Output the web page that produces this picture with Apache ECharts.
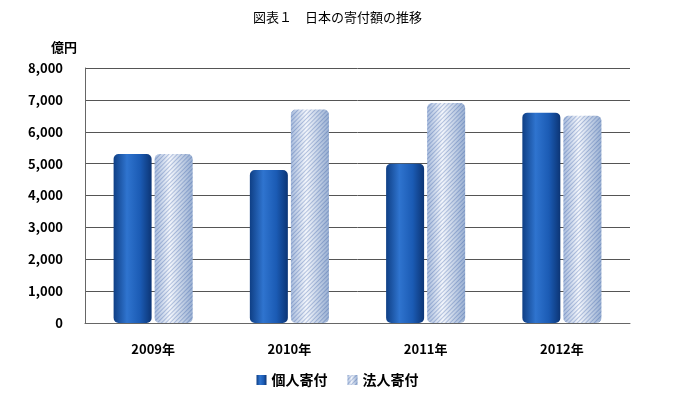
<!DOCTYPE html>
<html><head><meta charset="utf-8">
<script src="https://cdn.jsdelivr.net/npm/echarts@6/dist/echarts.min.js"></script>
<style>html,body{margin:0;padding:0;background:#fff}#c{width:675px;height:400px}</style>
</head><body><div id="c"></div>
<script>
const categories = ['2009年','2010年','2011年','2012年'];
const individual = [5300, 4800, 5000, 6600];
const corporate = [5300, 6700, 6900, 6500];
const yTicks = [0,1000,2000,3000,4000,5000,6000,7000,8000];
const font = '"Noto Sans CJK JP", sans-serif';
const chart = echarts.init(document.getElementById('c'));
const darkGrad = new echarts.graphic.LinearGradient(0,0,1,0,[
  {offset:0,color:'#0f3f85'},{offset:0.35,color:'#2f74cf'},{offset:0.7,color:'#1b5bb4'},{offset:1,color:'#0c3575'}]);
const lightGrad = new echarts.graphic.LinearGradient(0,0,1,0,[
  {offset:0,color:'#a9bcdc'},{offset:0.4,color:'#f2f5fb'},{offset:1,color:'#9ab0d2'}]);
chart.setOption({
  animation:false,
  title:{text:'図表１　日本の寄付額の推移',left:'center',top:6,textStyle:{fontFamily:font,fontSize:13,fontWeight:'normal',color:'#000'}},
  grid:{left:85,right:45,top:68,bottom:77},
  legend:{bottom:8,left:'center',itemWidth:10,itemHeight:10,itemGap:20,
    textStyle:{fontFamily:font,fontSize:14,fontWeight:'bold',color:'#000'},
    data:[{name:'個人寄付',icon:'rect'},{name:'法人寄付',icon:'rect'}]},
  xAxis:{type:'category',data:categories,
    axisLine:{lineStyle:{color:'#666'}},axisTick:{show:false},
    axisLabel:{fontFamily:font,fontSize:13,color:'#000',fontWeight:'bold',margin:20}},
  yAxis:{type:'value',min:0,max:8000,interval:1000,name:'億円',
    nameLocation:'end',nameGap:14,nameTextStyle:{fontFamily:font,fontSize:13,fontWeight:'bold',color:'#000',align:'right',padding:[0,8,0,0]},
    axisLine:{show:true,lineStyle:{color:'#666'}},
    splitLine:{lineStyle:{color:'#555'}},
    axisLabel:{fontFamily:font,fontSize:13,color:'#000',fontWeight:'bold',margin:22,
      formatter:v=>yTicks.includes(v)?v.toLocaleString('en-US'):''}},
  series:[
    {name:'個人寄付',type:'bar',data:individual,barWidth:38,barGap:'8%',
      itemStyle:{color:darkGrad,borderRadius:[5,5,5,5]}},
    {name:'法人寄付',type:'bar',data:corporate,barWidth:38,
      itemStyle:{color:lightGrad,borderRadius:[5,5,5,5],
        decal:{symbol:'rect',dashArrayX:[1,0],dashArrayY:[1,2],rotation:-Math.PI/4,color:'rgba(40,80,160,0.3)'}}}
  ]
});
</script></body></html>
